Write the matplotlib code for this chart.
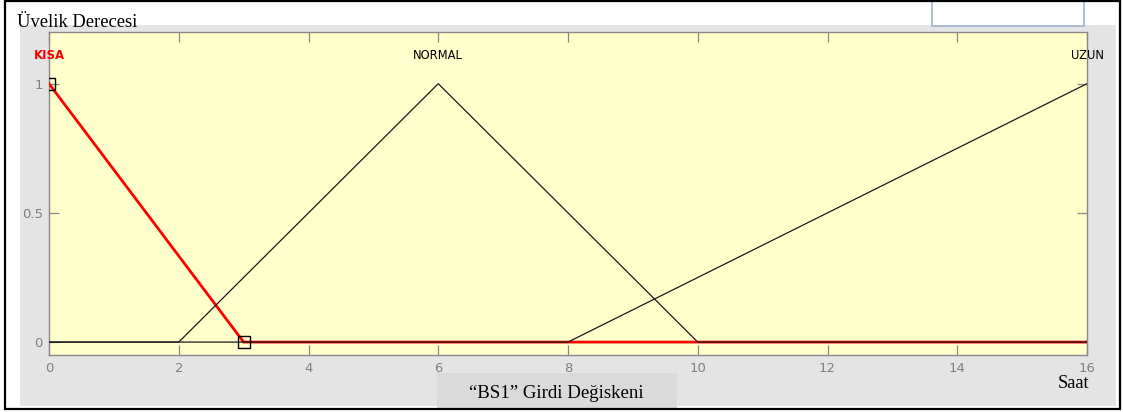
import matplotlib
matplotlib.use("Agg")
import matplotlib.pyplot as plt
from matplotlib.patches import Rectangle

# ---- data ----
x_kisa = [0, 3, 16]
y_kisa = [1, 0, 0]
x_normal = [0, 2, 6, 10, 16]
y_normal = [0, 0, 1, 0, 0]
x_uzun = [0, 8, 16]
y_uzun = [0, 0, 1]
mf_names = ["KISA", "NORMAL", "UZUN"]
mf_label_x = [0, 6, 16]
x_ticks = [0, 2, 4, 6, 8, 10, 12, 14, 16]
y_ticks = [0, 0.5, 1]
y_ticklabels = ["0", "0.5", "1"]

W, H = 1123, 412
fig = plt.figure(figsize=(W / 100, H / 100), dpi=100)
fig.patch.set_facecolor("white")

def fx(px):
    return px / W

def fy(py):
    return 1 - py / H

# gray panel
fig.add_artist(Rectangle((fx(20), fy(406)), fx(1116) - fx(20), fy(25) - fy(406),
                         transform=fig.transFigure, facecolor="#e4e4e4",
                         edgecolor="none", zorder=0))
# blue-edged box top right
fig.add_artist(Rectangle((fx(932), fy(26)), fx(1084) - fx(932), fy(-10) - fy(26),
                         transform=fig.transFigure, facecolor="white",
                         edgecolor="#9db4cc", lw=1.2, zorder=1))
# bottom title box
fig.add_artist(Rectangle((fx(437), fy(409)), fx(677) - fx(437), fy(373) - fy(409),
                         transform=fig.transFigure, facecolor="#dadada",
                         edgecolor="none", zorder=1))
# outer border
fig.add_artist(Rectangle((fx(5), fy(409)), fx(1120) - fx(5), fy(1) - fy(409),
                         transform=fig.transFigure, facecolor="none",
                         edgecolor="black", lw=1.6, zorder=10))

ax = fig.add_axes([fx(49), fy(355), fx(1087) - fx(49), fy(32) - fy(355)])
ax.set_zorder(3)
ax.set_facecolor("#ffffcc")
ax.set_xlim(0, 16)
ax.set_ylim(-0.05, 1.2)

ax.plot(x_kisa, y_kisa, color="#ff0000", lw=2.0, zorder=3)
ax.plot(x_normal, y_normal, color="#1a1a1a", lw=0.9, zorder=4)
ax.plot(x_uzun, y_uzun, color="#1a1a1a", lw=0.9, zorder=4)
ax.plot(x_kisa[:2], y_kisa[:2], linestyle="none", marker="s", markersize=8,
        markerfacecolor="none", markeredgecolor="black", markeredgewidth=1.0,
        zorder=5, clip_on=True)

for i, (name, xx) in enumerate(zip(mf_names, mf_label_x)):
    if i == 0:
        ax.text(xx, 1.11, name, color="red", fontsize=8.5, fontweight="bold",
                ha="center", va="center", clip_on=False)
    else:
        ax.text(xx, 1.11, name, color="black", fontsize=8.3,
                ha="center", va="center", clip_on=False)

ax.set_xticks(x_ticks)
ax.set_xticklabels([str(t) for t in x_ticks])
ax.set_yticks(y_ticks)
ax.set_yticklabels(y_ticklabels)
ax.tick_params(axis="both", direction="in", length=7, width=0.9, color="#888888",
               labelcolor="#808080", labelsize=9.5, top=True, right=True)
ax.tick_params(axis="x", pad=5)
ax.tick_params(axis="y", pad=4.5)
for s in ax.spines.values():
    s.set_color("#888888")
    s.set_linewidth(1.0)

fig.text(fx(17), fy(27), "Üvelik Derecesi", fontfamily="Liberation Serif",
         fontsize=13.3, ha="left", va="baseline", color="black", zorder=6)
fig.text(fx(1089), fy(388), "Saat", fontfamily="Liberation Serif",
         fontsize=13.3, ha="right", va="baseline", color="black", zorder=6)
fig.text(fx(556), fy(398), "\u201cBS1\u201d Girdi Değiskeni", fontfamily="Liberation Serif",
         fontsize=13.6, ha="center", va="baseline", color="black", zorder=6)

fig.savefig("out.png", dpi=100)
